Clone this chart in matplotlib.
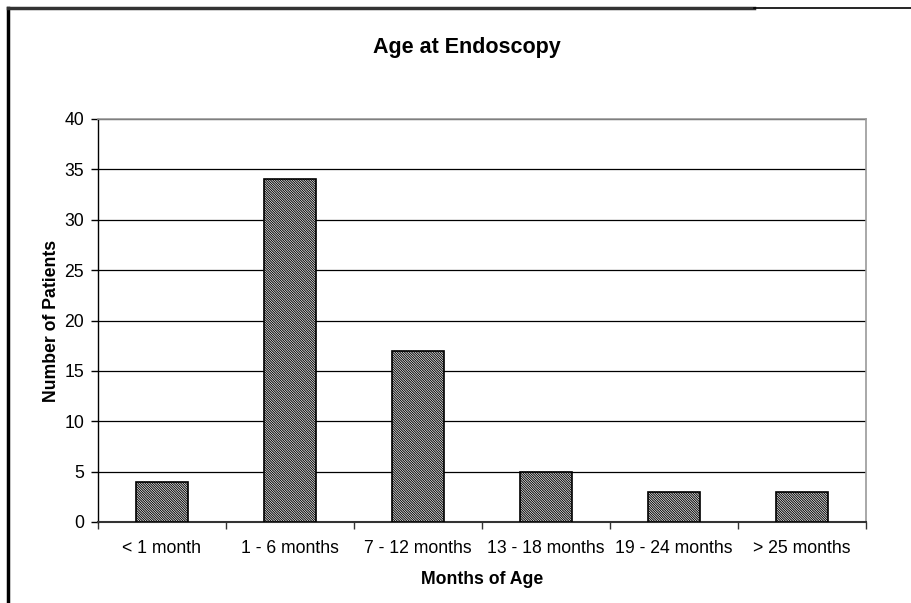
import matplotlib
matplotlib.use("Agg")
import matplotlib.pyplot as plt
from matplotlib.lines import Line2D
import numpy as np

categories = ["< 1 month", "1 - 6 months", "7 - 12 months", "13 - 18 months",
              "19 - 24 months", "> 25 months"]
values = [4, 34, 17, 5, 3, 3]
yticks = [0, 5, 10, 15, 20, 25, 30, 35, 40]

plt.rcParams['font.family'] = ['Liberation Sans', 'DejaVu Sans']
plt.rcParams['hatch.linewidth'] = 0.7
plt.rcParams['hatch.color'] = '#3a3a3a'

fig = plt.figure(figsize=(9.11, 6.03), dpi=100)
ax = fig.add_axes([98/911, 1-522/603, (866-98)/911, (522-119)/603])

x = np.arange(len(categories))
ax.bar(x, values, width=0.41, color='white', edgecolor='black', linewidth=1.2,
       hatch='\\' * 14, zorder=3)

ax.set_xlim(-0.5, len(categories)-0.5)
ax.set_ylim(0, 40)
ax.set_yticks(yticks)
ax.yaxis.grid(True, color='black', linewidth=0.9, zorder=0)
ax.set_axisbelow(True)

ax.set_xticks(np.arange(-0.5, len(categories), 1.0))
ax.set_xticklabels([])
ax.set_xticks(x, minor=True)
ax.set_xticklabels(categories, minor=True, fontsize=12.7)
ax.tick_params(axis='x', which='minor', length=0, pad=13)
ax.tick_params(axis='x', which='major', length=5, width=1, color='#333333')
ax.tick_params(axis='y', length=5, width=1, labelsize=12.7, pad=5)

for s in ['top', 'right']:
    ax.spines[s].set_color('#999999')
    ax.spines[s].set_linewidth(1.2)
ax.spines['left'].set_color('black')
ax.spines['left'].set_linewidth(1)
ax.spines['bottom'].set_color('#333333')
ax.spines['bottom'].set_linewidth(1.5)

ax.set_xlabel("Months of Age", fontsize=12.7, fontweight='bold', labelpad=10)
ax.set_ylabel("Number of Patients", fontsize=12.7, fontweight='bold', labelpad=3)
fig.text(467/911, 1-47/603, "Age at Endoscopy", ha='center', va='center',
         fontsize=15.5, fontweight='bold')

# outer chart border (partially visible)
fig.add_artist(Line2D([8/911, 8/911], [0, 1-8/603], color='black', linewidth=2.5,
                      transform=fig.transFigure))
fig.add_artist(Line2D([8/911, 754/911], [1-8/603, 1-8/603], color='#333333', linewidth=2.5,
                      transform=fig.transFigure))
fig.add_artist(Line2D([754/911, 1], [1-8/603, 1-8/603], color='black', linewidth=1.2,
                      transform=fig.transFigure))

fig.savefig("out.png", dpi=100)
